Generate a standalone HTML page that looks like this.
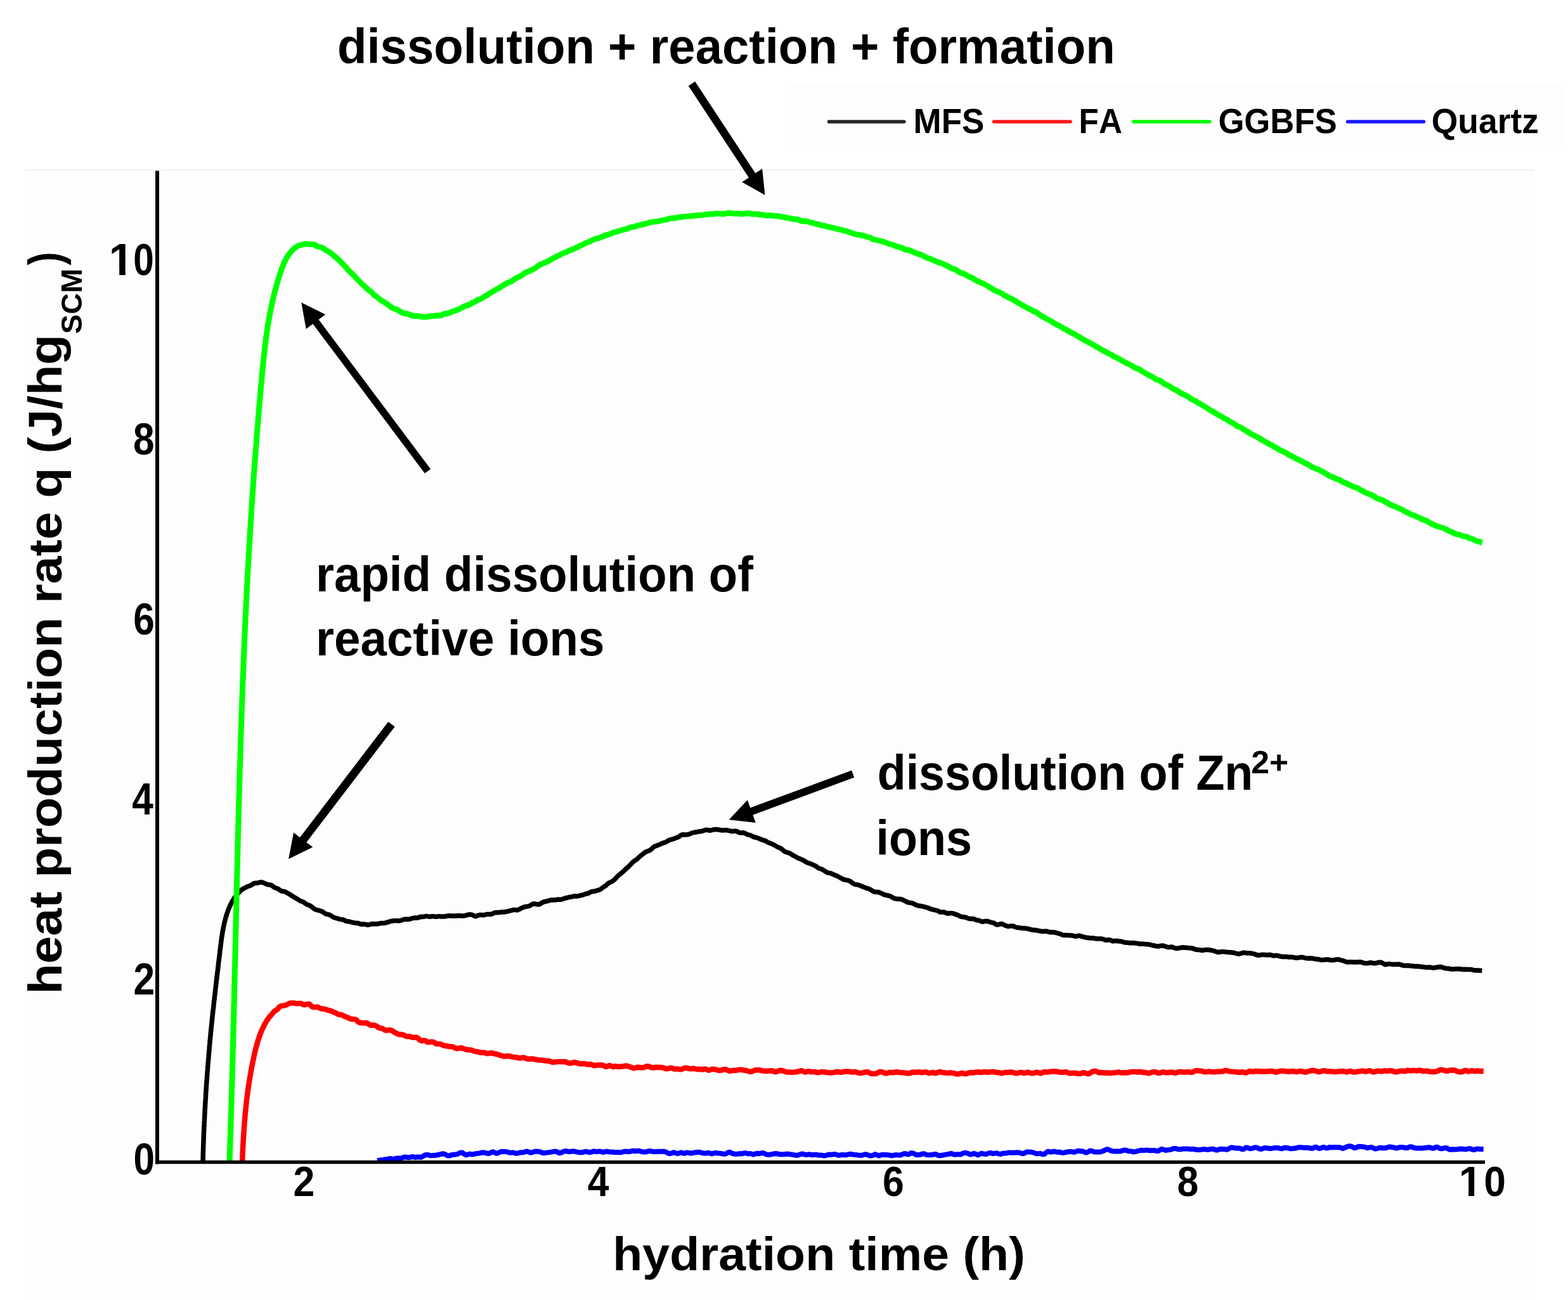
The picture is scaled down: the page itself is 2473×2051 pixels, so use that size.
<!DOCTYPE html><html><head><meta charset="utf-8"><title>heat production rate</title><style>html,body{margin:0;padding:0;background:#fff;}svg{display:block;}text{font-family:"Liberation Sans",Arial,sans-serif;font-weight:bold;font-kerning:none;}</style></head><body>
<svg width="2473" height="2051" viewBox="0 0 2473 2051">
<rect x="0" y="0" width="2473" height="2051" fill="#ffffff"/>
<rect x="38" y="268" width="2382" height="1783" fill="#fdfdfd"/>
<line x1="38" y1="268" x2="2420" y2="268" stroke="#f2f2f2" stroke-width="2"/>
<rect x="1246" y="134" width="1220" height="102" fill="#fdfdfd"/>
<path d="M595.0,1831.0 L598.0,1830.6 L601.0,1830.3 L604.0,1830.0 L606.9,1829.2 L609.9,1829.0 L612.9,1828.3 L615.8,1827.7 L618.9,1828.7 L622.0,1828.7 L624.8,1827.5 L627.8,1827.3 L630.9,1827.5 L633.8,1826.9 L636.7,1825.8 L639.7,1825.4 L642.8,1826.1 L645.8,1826.3 L648.7,1825.3 L651.7,1825.0 L654.8,1825.9 L657.8,1825.6 L660.8,1825.3 L663.8,1825.9 L666.7,1824.5 L669.6,1822.7 L672.5,1822.0 L675.6,1822.1 L678.6,1823.2 L681.6,1823.0 L684.6,1822.7 L687.6,1822.7 L690.6,1822.0 L693.5,1821.4 L696.5,1820.6 L699.5,1820.3 L702.5,1821.3 L705.6,1823.2 L708.7,1823.5 L711.6,1822.3 L714.6,1821.8 L717.6,1821.6 L720.5,1821.1 L723.5,1819.8 L726.4,1818.4 L729.4,1818.6 L732.5,1821.0 L735.6,1822.4 L738.5,1821.1 L741.5,1820.5 L744.5,1821.4 L747.5,1820.9 L750.5,1820.0 L753.5,1819.8 L756.4,1819.4 L759.4,1818.5 L762.4,1818.2 L765.4,1819.0 L768.4,1819.7 L771.4,1819.8 L774.4,1818.3 L777.4,1817.1 L780.4,1818.6 L783.4,1819.8 L786.4,1818.6 L789.4,1817.2 L792.3,1816.7 L795.3,1816.9 L798.3,1817.1 L801.4,1817.7 L804.4,1818.7 L807.4,1818.5 L810.4,1818.5 L813.4,1819.7 L816.4,1819.6 L819.4,1818.4 L822.3,1818.2 L825.3,1818.3 L828.3,1817.1 L831.3,1816.4 L834.3,1817.7 L837.3,1818.6 L840.3,1817.8 L843.3,1816.8 L846.3,1816.6 L849.3,1816.7 L852.3,1817.3 L855.3,1818.8 L858.3,1819.2 L861.3,1818.6 L864.3,1818.2 L867.3,1817.9 L870.3,1817.4 L873.3,1816.8 L876.3,1816.5 L879.3,1817.6 L882.3,1819.2 L885.3,1818.5 L888.3,1816.9 L891.3,1816.1 L894.3,1816.3 L897.3,1817.1 L900.2,1816.8 L903.2,1816.2 L906.2,1816.5 L909.2,1817.3 L912.2,1817.9 L915.2,1818.3 L918.2,1818.2 L921.2,1817.2 L924.2,1816.7 L927.2,1817.5 L930.2,1818.2 L933.2,1817.4 L936.2,1816.3 L939.2,1816.7 L942.2,1816.9 L945.2,1816.4 L948.2,1817.0 L951.2,1818.0 L954.2,1817.1 L957.2,1816.5 L960.2,1817.3 L963.2,1817.4 L966.2,1817.4 L969.2,1818.0 L972.2,1818.0 L975.2,1818.1 L978.2,1818.3 L981.2,1817.6 L984.2,1816.8 L987.2,1816.6 L990.2,1816.9 L993.2,1816.9 L996.2,1815.9 L999.2,1815.6 L1002.2,1816.3 L1005.2,1815.7 L1008.2,1815.6 L1011.2,1816.8 L1014.2,1817.4 L1017.2,1817.6 L1020.2,1817.0 L1023.2,1816.1 L1026.2,1816.1 L1029.2,1816.8 L1032.2,1817.1 L1035.2,1817.0 L1038.2,1816.8 L1041.2,1816.7 L1044.2,1816.7 L1047.2,1816.6 L1050.2,1817.5 L1053.2,1819.1 L1056.2,1820.1 L1059.2,1819.4 L1062.2,1818.1 L1065.2,1818.8 L1068.2,1820.1 L1071.2,1819.3 L1074.2,1818.3 L1077.2,1819.3 L1080.2,1819.7 L1083.2,1818.4 L1086.2,1818.9 L1089.2,1819.6 L1092.2,1818.9 L1095.2,1818.6 L1098.2,1818.0 L1101.2,1817.6 L1104.2,1818.1 L1107.2,1818.9 L1110.2,1819.5 L1113.2,1819.5 L1116.2,1818.8 L1119.2,1819.2 L1122.2,1820.3 L1125.2,1819.7 L1128.2,1818.9 L1131.2,1819.3 L1134.2,1819.6 L1137.2,1819.8 L1140.2,1820.5 L1143.2,1820.8 L1146.2,1819.6 L1149.2,1817.8 L1152.2,1818.3 L1155.2,1819.8 L1158.2,1820.5 L1161.2,1820.9 L1164.2,1820.4 L1167.2,1820.1 L1170.2,1820.4 L1173.2,1819.2 L1176.2,1819.1 L1179.2,1820.4 L1182.2,1819.9 L1185.2,1820.5 L1188.2,1821.5 L1191.2,1820.3 L1194.2,1819.7 L1197.2,1820.2 L1200.2,1819.4 L1203.2,1818.9 L1206.2,1820.2 L1209.2,1821.4 L1212.2,1821.7 L1215.2,1821.5 L1218.2,1820.8 L1221.2,1820.2 L1224.2,1819.9 L1227.2,1820.6 L1230.2,1821.3 L1233.2,1821.3 L1236.2,1821.2 L1239.2,1820.7 L1242.2,1820.6 L1245.2,1821.0 L1248.2,1821.4 L1251.2,1821.9 L1254.2,1822.5 L1257.2,1822.8 L1260.2,1821.9 L1263.2,1820.8 L1266.2,1820.6 L1269.2,1821.5 L1272.2,1821.9 L1275.2,1821.3 L1278.2,1821.6 L1281.2,1822.2 L1284.2,1821.7 L1287.2,1821.7 L1290.2,1822.4 L1293.2,1822.4 L1296.2,1822.7 L1299.2,1823.4 L1302.2,1823.1 L1305.2,1821.9 L1308.2,1821.5 L1311.2,1821.9 L1314.2,1821.2 L1317.2,1820.9 L1320.2,1822.2 L1323.2,1822.8 L1326.2,1822.1 L1329.2,1821.9 L1332.2,1822.3 L1335.2,1822.0 L1338.2,1821.2 L1341.2,1820.8 L1344.2,1821.3 L1347.2,1821.7 L1350.2,1822.0 L1353.2,1822.4 L1356.2,1822.7 L1359.2,1822.7 L1362.2,1821.7 L1365.2,1821.1 L1368.2,1821.9 L1371.2,1823.0 L1374.2,1823.6 L1377.2,1822.5 L1380.2,1821.1 L1383.2,1822.2 L1386.2,1823.4 L1389.2,1822.4 L1392.2,1821.7 L1395.2,1821.8 L1398.2,1821.9 L1401.2,1822.3 L1404.2,1822.7 L1407.2,1823.2 L1410.2,1822.6 L1413.2,1821.8 L1416.2,1822.4 L1419.2,1822.6 L1422.2,1821.6 L1425.2,1820.3 L1428.2,1820.1 L1431.2,1821.3 L1434.2,1820.8 L1437.2,1819.1 L1440.2,1819.4 L1443.2,1821.1 L1446.2,1822.1 L1449.2,1822.0 L1452.2,1821.5 L1455.2,1820.3 L1458.2,1820.4 L1461.2,1821.9 L1464.2,1822.2 L1467.2,1822.1 L1470.2,1822.1 L1473.2,1821.0 L1476.2,1821.0 L1479.2,1822.7 L1482.2,1823.2 L1485.2,1822.7 L1488.2,1822.3 L1491.2,1821.5 L1494.2,1821.1 L1497.2,1820.5 L1500.2,1819.8 L1503.2,1821.0 L1506.2,1821.8 L1509.2,1821.2 L1512.2,1821.3 L1515.2,1821.4 L1518.1,1819.8 L1521.1,1818.8 L1524.1,1819.1 L1527.1,1820.0 L1530.2,1821.4 L1533.2,1821.0 L1536.1,1819.7 L1539.2,1820.8 L1542.2,1822.3 L1545.2,1820.8 L1548.1,1819.6 L1551.1,1820.5 L1554.2,1821.0 L1557.1,1820.3 L1560.1,1819.1 L1563.1,1819.1 L1566.1,1820.1 L1569.1,1819.6 L1572.1,1819.1 L1575.1,1820.5 L1578.2,1820.9 L1581.1,1819.8 L1584.1,1819.5 L1587.1,1819.5 L1590.1,1818.6 L1593.1,1818.4 L1596.1,1818.7 L1599.1,1818.6 L1602.1,1818.6 L1605.1,1818.3 L1608.1,1818.6 L1611.1,1819.8 L1614.1,1820.1 L1617.1,1818.4 L1620.1,1817.3 L1623.1,1817.5 L1626.1,1817.6 L1629.1,1818.1 L1632.1,1819.3 L1635.1,1820.2 L1638.1,1820.1 L1641.1,1819.8 L1644.1,1821.2 L1647.1,1821.1 L1650.1,1818.2 L1653.1,1816.5 L1656.1,1817.4 L1659.1,1817.4 L1662.0,1816.5 L1665.1,1817.2 L1668.1,1817.7 L1671.1,1817.6 L1674.1,1818.6 L1677.1,1818.8 L1680.1,1818.0 L1683.1,1817.5 L1686.1,1817.0 L1689.1,1816.8 L1692.1,1817.6 L1695.1,1817.8 L1698.0,1816.3 L1701.0,1815.6 L1704.0,1816.3 L1707.0,1816.3 L1710.1,1817.4 L1713.1,1818.6 L1716.1,1817.3 L1719.0,1815.5 L1722.0,1815.8 L1725.1,1817.2 L1728.1,1817.5 L1731.1,1817.6 L1734.1,1817.6 L1737.0,1816.8 L1740.0,1815.9 L1743.0,1814.4 L1746.0,1813.0 L1749.0,1813.9 L1752.0,1815.6 L1755.0,1816.2 L1758.0,1816.4 L1761.0,1816.2 L1764.0,1816.4 L1767.0,1816.3 L1770.0,1815.4 L1773.0,1814.6 L1776.0,1814.8 L1779.0,1815.9 L1782.0,1816.3 L1785.0,1816.6 L1788.0,1817.4 L1791.0,1816.9 L1794.0,1816.1 L1797.0,1815.4 L1800.0,1814.6 L1803.0,1815.0 L1806.0,1814.8 L1809.0,1814.4 L1812.0,1815.1 L1815.0,1815.2 L1818.0,1815.0 L1821.0,1815.1 L1824.0,1815.9 L1827.0,1815.8 L1830.0,1813.9 L1832.9,1812.9 L1836.0,1814.1 L1839.0,1814.9 L1842.0,1814.2 L1845.0,1813.9 L1847.9,1813.3 L1850.9,1811.9 L1853.9,1811.9 L1856.9,1812.8 L1859.9,1813.4 L1862.9,1813.0 L1865.9,1812.6 L1868.9,1812.5 L1871.9,1812.4 L1874.9,1812.8 L1877.9,1812.9 L1880.9,1812.7 L1883.9,1813.2 L1886.9,1813.9 L1889.9,1813.9 L1892.9,1813.9 L1895.9,1813.6 L1898.9,1813.0 L1901.9,1813.5 L1904.9,1813.8 L1907.9,1813.3 L1910.9,1812.7 L1913.9,1812.8 L1916.9,1814.2 L1919.9,1814.6 L1922.9,1813.2 L1925.9,1812.7 L1928.9,1812.9 L1931.9,1813.3 L1934.9,1813.7 L1937.9,1812.5 L1940.9,1810.5 L1943.9,1810.5 L1946.9,1811.3 L1949.9,1811.6 L1952.9,1811.4 L1955.9,1811.7 L1958.9,1813.3 L1961.9,1812.8 L1964.9,1810.5 L1967.9,1810.8 L1970.9,1812.2 L1973.9,1812.0 L1976.9,1811.1 L1979.9,1810.3 L1982.9,1810.8 L1985.9,1812.4 L1988.9,1813.0 L1991.9,1811.9 L1994.9,1811.1 L1997.9,1811.3 L2000.9,1811.7 L2003.9,1812.0 L2006.9,1811.6 L2009.9,1811.1 L2012.8,1810.9 L2015.8,1810.9 L2018.9,1812.0 L2021.9,1812.2 L2024.8,1811.0 L2027.8,1810.8 L2030.8,1811.1 L2033.9,1812.0 L2036.9,1812.3 L2039.8,1811.7 L2042.8,1811.7 L2045.8,1810.9 L2048.8,1810.2 L2051.8,1810.3 L2054.8,1810.6 L2057.8,1810.7 L2060.8,1810.7 L2063.8,1810.8 L2066.8,1811.7 L2069.8,1811.8 L2072.8,1810.3 L2075.8,1809.8 L2078.8,1811.3 L2081.8,1812.0 L2084.8,1810.6 L2087.8,1809.8 L2090.8,1811.1 L2093.8,1811.3 L2096.8,1810.0 L2099.8,1810.2 L2102.8,1810.3 L2105.8,1810.1 L2108.8,1810.2 L2111.8,1810.0 L2114.8,1810.9 L2117.8,1811.9 L2120.8,1811.0 L2123.8,1809.3 L2126.8,1808.4 L2129.8,1808.2 L2132.8,1809.3 L2135.8,1811.1 L2138.8,1810.7 L2141.8,1809.2 L2144.8,1808.7 L2147.8,1809.1 L2150.8,1809.4 L2153.8,1810.1 L2156.8,1811.2 L2159.8,1810.4 L2162.8,1809.9 L2165.8,1811.2 L2168.8,1812.5 L2171.8,1812.1 L2174.8,1810.9 L2177.8,1810.8 L2180.8,1811.2 L2183.8,1811.3 L2186.8,1810.8 L2189.8,1809.6 L2192.8,1809.5 L2195.8,1810.0 L2198.8,1810.5 L2201.8,1811.5 L2204.8,1811.0 L2207.8,1810.0 L2210.8,1810.0 L2213.8,1810.3 L2216.8,1811.0 L2219.7,1811.1 L2222.8,1809.5 L2225.8,1809.1 L2228.8,1810.5 L2231.7,1811.2 L2234.7,1811.4 L2237.7,1811.5 L2240.7,1811.6 L2243.7,1811.5 L2246.7,1810.9 L2249.7,1810.7 L2252.8,1810.3 L2255.8,1810.4 L2258.7,1811.7 L2261.7,1811.4 L2264.8,1809.8 L2267.8,1810.0 L2270.7,1811.9 L2273.7,1812.4 L2276.7,1811.6 L2279.7,1810.8 L2282.7,1811.7 L2285.7,1813.6 L2288.7,1813.7 L2291.7,1813.2 L2294.7,1813.4 L2297.7,1813.4 L2300.7,1812.9 L2303.7,1812.6 L2306.7,1812.8 L2309.7,1813.3 L2312.7,1813.3 L2315.7,1812.3 L2318.7,1812.2 L2321.7,1813.5 L2324.7,1814.1 L2327.7,1813.2 L2330.7,1812.4 L2333.7,1813.0 L2336.7,1813.1 L2339.7,1813.2" fill="none" stroke="#0000ff" stroke-width="8" stroke-linejoin="round" stroke-linecap="butt"/>
<path d="M381.9,1833.4 L382.1,1830.2 L382.3,1827.0 L382.4,1823.8 L382.6,1820.7 L382.7,1817.5 L382.9,1814.4 L383.1,1811.3 L383.2,1808.2 L383.4,1805.2 L383.6,1802.1 L383.7,1799.1 L383.9,1796.1 L384.1,1793.1 L384.3,1790.1 L384.5,1787.1 L384.7,1784.2 L384.9,1781.2 L385.1,1778.3 L385.3,1775.4 L385.5,1772.4 L385.8,1769.5 L386.0,1766.6 L386.2,1763.7 L386.5,1760.8 L386.7,1758.0 L387.0,1755.1 L387.3,1752.2 L387.6,1749.3 L387.9,1746.5 L388.2,1743.6 L388.5,1740.7 L388.8,1737.9 L389.1,1735.0 L389.5,1732.1 L389.8,1729.3 L390.2,1726.4 L390.6,1723.5 L391.0,1720.6 L391.4,1717.7 L391.8,1714.8 L392.2,1711.9 L392.6,1709.0 L393.1,1706.1 L393.6,1703.2 L394.1,1700.3 L394.6,1697.3 L395.1,1694.4 L395.6,1691.4 L396.1,1688.4 L396.7,1685.4 L397.3,1682.4 L397.9,1679.4 L398.5,1676.4 L399.1,1673.3 L399.8,1670.3 L400.4,1667.2 L401.1,1664.1 L401.8,1661.0 L402.6,1657.8 L403.3,1654.7 L404.1,1651.6 L405.0,1648.5 L405.8,1645.5 L406.7,1642.4 L407.7,1639.4 L408.7,1636.4 L409.7,1633.4 L410.8,1630.5 L412.0,1627.6 L413.2,1624.7 L414.5,1622.0 L415.8,1619.2 L417.2,1616.5 L418.6,1613.9 L420.1,1611.4 L421.7,1608.9 L423.4,1606.5 L425.1,1604.2 L427.1,1602.1 L429.0,1600.0 L430.8,1597.7 L432.7,1595.6 L435.1,1594.0 L437.4,1592.4 L439.3,1590.2 L441.4,1588.0 L444.1,1587.0 L447.1,1586.7 L449.9,1586.1 L452.5,1585.1 L455.0,1583.6 L457.7,1582.5 L460.6,1582.5 L463.5,1582.5 L466.4,1583.0 L469.2,1583.4 L472.2,1582.9 L475.1,1583.3 L477.9,1584.8 L480.8,1585.3 L484.1,1584.2 L487.3,1583.9 L489.9,1586.0 L492.4,1588.3 L495.3,1589.0 L498.5,1588.7 L501.6,1589.0 L504.3,1590.4 L507.2,1591.4 L510.2,1591.7 L513.2,1592.3 L516.0,1593.4 L518.9,1594.2 L521.9,1594.9 L524.6,1596.2 L527.4,1597.3 L530.3,1598.4 L532.9,1600.1 L535.8,1600.8 L539.0,1601.0 L541.6,1602.6 L544.3,1603.9 L547.2,1604.8 L549.9,1606.2 L552.7,1607.3 L555.7,1608.0 L558.9,1608.0 L561.8,1608.9 L564.1,1611.5 L566.6,1613.3 L569.7,1613.7 L572.8,1613.9 L576.1,1613.8 L579.2,1614.1 L581.7,1616.1 L584.4,1617.5 L587.6,1617.3 L590.7,1617.5 L593.5,1618.6 L596.0,1620.7 L598.7,1622.1 L601.9,1622.2 L604.6,1623.5 L607.2,1625.4 L610.3,1625.5 L613.5,1625.1 L616.6,1625.3 L619.3,1626.6 L621.9,1628.6 L624.6,1629.9 L627.3,1631.4 L630.2,1632.2 L633.4,1632.0 L636.3,1632.8 L638.9,1634.3 L641.8,1635.2 L644.9,1635.2 L647.9,1635.6 L650.7,1636.8 L653.8,1636.8 L656.9,1636.5 L659.6,1638.3 L662.0,1640.8 L664.8,1642.2 L668.0,1641.5 L671.0,1641.9 L673.6,1644.0 L676.6,1644.3 L679.8,1643.8 L682.8,1643.8 L685.6,1645.1 L688.2,1646.9 L691.3,1647.1 L694.4,1647.0 L697.1,1648.3 L699.9,1649.6 L702.9,1649.9 L705.8,1650.5 L708.7,1651.2 L711.7,1651.3 L714.7,1651.7 L717.4,1653.2 L720.3,1654.4 L723.4,1653.9 L726.6,1653.2 L729.5,1653.7 L732.3,1655.0 L735.2,1655.8 L738.1,1656.3 L741.1,1656.5 L744.1,1656.8 L746.9,1658.2 L749.8,1659.0 L752.8,1659.2 L755.7,1660.0 L758.6,1660.8 L761.6,1660.6 L764.6,1660.9 L767.5,1661.9 L770.5,1661.9 L773.6,1661.3 L776.6,1661.6 L779.5,1662.5 L782.4,1662.9 L785.3,1663.7 L788.2,1664.8 L791.1,1665.7 L794.0,1666.4 L797.0,1666.4 L800.1,1666.1 L803.1,1666.2 L806.0,1666.9 L808.9,1667.8 L811.9,1668.0 L814.8,1668.3 L817.7,1669.2 L820.7,1669.3 L823.8,1668.6 L826.8,1668.7 L829.7,1670.0 L832.6,1670.8 L835.6,1670.8 L838.6,1670.6 L841.6,1670.7 L844.6,1671.5 L847.5,1672.2 L850.5,1672.4 L853.5,1672.5 L856.4,1672.9 L859.4,1673.6 L862.4,1673.7 L865.4,1673.8 L868.3,1674.9 L871.2,1675.7 L874.2,1675.7 L877.3,1675.3 L880.3,1674.9 L883.3,1675.1 L886.3,1675.3 L889.3,1674.9 L892.3,1675.3 L895.2,1676.7 L898.1,1677.5 L901.1,1677.2 L904.2,1676.3 L907.2,1676.1 L910.2,1677.0 L913.1,1678.0 L916.1,1678.4 L919.1,1678.2 L922.1,1678.2 L925.1,1679.0 L928.0,1679.5 L931.1,1679.0 L934.0,1679.9 L936.9,1681.2 L940.0,1680.8 L943.0,1680.3 L946.0,1680.5 L949.0,1680.3 L952.0,1681.1 L954.9,1682.7 L957.9,1682.4 L961.0,1681.0 L964.0,1682.1 L966.9,1683.1 L970.0,1682.2 L972.9,1682.5 L975.9,1683.1 L979.0,1682.6 L982.0,1682.6 L985.0,1682.0 L988.0,1681.5 L991.0,1682.4 L994.0,1683.3 L996.9,1684.5 L999.9,1685.3 L1002.9,1684.5 L1006.0,1683.7 L1009.0,1684.0 L1012.0,1684.5 L1015.0,1684.2 L1018.0,1683.0 L1021.1,1682.2 L1024.1,1682.7 L1027.0,1684.1 L1030.0,1684.5 L1033.0,1684.0 L1036.0,1683.8 L1039.0,1683.9 L1042.0,1684.0 L1045.0,1684.4 L1048.0,1685.2 L1051.0,1686.2 L1054.0,1685.8 L1057.1,1684.9 L1060.0,1685.3 L1063.0,1686.5 L1066.0,1686.6 L1069.0,1686.5 L1072.0,1687.2 L1075.0,1687.0 L1078.1,1685.6 L1081.1,1684.7 L1084.1,1685.1 L1087.1,1686.1 L1090.1,1686.2 L1093.1,1685.8 L1096.1,1686.2 L1099.1,1687.0 L1102.1,1686.8 L1105.1,1687.0 L1108.1,1687.4 L1111.1,1686.4 L1114.1,1686.9 L1117.1,1688.5 L1120.1,1687.8 L1123.1,1686.7 L1126.1,1686.8 L1129.1,1687.5 L1132.1,1688.5 L1135.1,1688.8 L1138.1,1688.4 L1141.1,1687.4 L1144.1,1687.0 L1147.1,1688.3 L1150.1,1689.7 L1153.1,1689.4 L1156.1,1688.8 L1159.1,1688.7 L1162.1,1688.4 L1165.1,1687.9 L1168.2,1687.6 L1171.1,1688.0 L1174.1,1688.6 L1177.1,1689.0 L1180.1,1690.0 L1183.1,1690.9 L1186.1,1690.4 L1189.1,1689.0 L1192.2,1688.2 L1195.2,1688.1 L1198.2,1688.3 L1201.1,1689.1 L1204.1,1689.7 L1207.1,1689.7 L1210.1,1689.7 L1213.1,1689.6 L1216.1,1689.3 L1219.1,1689.7 L1222.1,1691.0 L1225.1,1690.8 L1228.1,1689.2 L1231.2,1688.7 L1234.1,1689.2 L1237.1,1690.2 L1240.1,1691.2 L1243.1,1691.6 L1246.1,1691.6 L1249.1,1691.7 L1252.1,1691.6 L1255.1,1691.3 L1258.1,1690.8 L1261.1,1689.8 L1264.1,1689.1 L1267.1,1690.4 L1270.1,1691.5 L1273.1,1690.6 L1276.1,1690.3 L1279.1,1691.1 L1282.1,1690.9 L1285.1,1690.9 L1288.1,1691.9 L1291.1,1692.0 L1294.1,1691.4 L1297.1,1690.9 L1300.1,1691.2 L1303.1,1691.7 L1306.1,1692.1 L1309.1,1692.5 L1312.1,1692.3 L1315.1,1691.9 L1318.1,1691.3 L1321.1,1690.8 L1324.1,1691.5 L1327.1,1691.8 L1330.1,1691.0 L1333.1,1690.6 L1336.1,1690.6 L1339.1,1690.6 L1342.1,1691.3 L1345.1,1691.4 L1348.1,1690.9 L1351.1,1691.6 L1354.0,1692.7 L1357.0,1693.0 L1360.0,1692.6 L1363.0,1691.8 L1366.0,1691.2 L1369.0,1691.5 L1372.0,1692.8 L1375.0,1694.1 L1378.0,1694.1 L1381.0,1693.9 L1384.0,1692.8 L1387.0,1691.1 L1390.0,1691.0 L1393.0,1692.0 L1396.0,1693.2 L1399.0,1693.3 L1402.0,1692.1 L1405.0,1692.0 L1408.0,1692.2 L1411.0,1691.7 L1414.0,1691.2 L1417.0,1691.7 L1420.0,1692.1 L1423.0,1692.2 L1426.0,1692.6 L1429.0,1692.9 L1431.9,1693.3 L1434.9,1693.3 L1437.9,1692.0 L1440.9,1691.5 L1443.9,1691.9 L1446.9,1691.4 L1449.9,1691.3 L1452.9,1692.0 L1455.9,1691.9 L1458.9,1691.3 L1461.9,1691.8 L1464.9,1693.1 L1467.9,1692.8 L1470.9,1691.9 L1473.9,1692.9 L1476.9,1693.1 L1479.9,1691.4 L1482.9,1691.1 L1485.9,1692.0 L1488.9,1692.3 L1491.8,1692.7 L1494.8,1692.9 L1497.8,1692.5 L1500.8,1692.6 L1503.8,1693.1 L1506.8,1693.8 L1509.8,1694.6 L1512.8,1694.3 L1515.8,1693.1 L1518.8,1693.2 L1521.8,1694.3 L1524.8,1693.9 L1527.8,1692.6 L1530.8,1692.1 L1533.8,1692.4 L1536.8,1692.1 L1539.8,1691.4 L1542.8,1691.2 L1545.7,1691.7 L1548.7,1691.8 L1551.7,1691.2 L1554.7,1691.3 L1557.7,1691.7 L1560.7,1691.2 L1563.7,1690.9 L1566.7,1691.0 L1569.7,1691.5 L1572.7,1692.1 L1575.7,1692.3 L1578.7,1693.0 L1581.7,1693.0 L1584.7,1692.0 L1587.7,1691.9 L1590.7,1691.8 L1593.6,1691.4 L1596.6,1691.8 L1599.6,1692.5 L1602.6,1693.3 L1605.6,1693.1 L1608.6,1691.9 L1611.6,1692.0 L1614.6,1693.1 L1617.6,1692.6 L1620.6,1691.6 L1623.6,1692.4 L1626.6,1693.3 L1629.6,1693.3 L1632.6,1692.4 L1635.6,1691.7 L1638.6,1692.6 L1641.6,1693.3 L1644.5,1692.0 L1647.5,1691.0 L1650.5,1691.5 L1653.5,1691.2 L1656.5,1690.7 L1659.5,1690.6 L1662.5,1690.2 L1665.5,1690.5 L1668.5,1691.0 L1671.5,1691.5 L1674.5,1691.9 L1677.5,1691.5 L1680.5,1691.1 L1683.5,1692.0 L1686.5,1693.2 L1689.4,1693.3 L1692.4,1692.9 L1695.4,1693.0 L1698.4,1693.5 L1701.4,1694.1 L1704.4,1693.8 L1707.4,1692.5 L1710.4,1692.4 L1713.4,1693.6 L1716.4,1694.3 L1719.4,1692.9 L1722.4,1690.9 L1725.4,1690.0 L1728.3,1690.0 L1731.3,1691.5 L1734.3,1692.4 L1737.3,1692.1 L1740.3,1692.4 L1743.3,1692.8 L1746.3,1692.6 L1749.3,1692.8 L1752.3,1692.9 L1755.3,1692.6 L1758.3,1692.4 L1761.3,1691.8 L1764.3,1691.4 L1767.3,1692.3 L1770.3,1692.6 L1773.3,1692.3 L1776.3,1692.6 L1779.3,1692.3 L1782.2,1691.2 L1785.2,1691.1 L1788.2,1691.1 L1791.2,1691.1 L1794.2,1691.4 L1797.2,1691.1 L1800.2,1691.2 L1803.2,1691.9 L1806.2,1692.1 L1809.2,1692.8 L1812.2,1693.2 L1815.2,1692.2 L1818.2,1691.2 L1821.2,1691.0 L1824.2,1691.9 L1827.2,1693.0 L1830.1,1692.6 L1833.1,1691.4 L1836.1,1691.5 L1839.1,1692.3 L1842.1,1692.2 L1845.1,1691.8 L1848.1,1691.6 L1851.1,1692.4 L1854.1,1692.8 L1857.1,1691.8 L1860.1,1690.9 L1863.1,1691.0 L1866.1,1691.5 L1869.1,1691.5 L1872.1,1691.3 L1875.1,1691.2 L1878.1,1691.8 L1881.0,1691.6 L1884.0,1689.8 L1887.0,1689.0 L1890.0,1689.4 L1893.0,1689.5 L1896.0,1689.9 L1899.0,1691.0 L1902.0,1691.3 L1905.0,1690.7 L1908.0,1690.6 L1911.0,1691.0 L1914.0,1691.3 L1917.0,1691.1 L1920.0,1690.8 L1923.0,1690.7 L1926.0,1690.6 L1929.0,1690.2 L1931.9,1689.0 L1934.9,1689.0 L1937.9,1690.1 L1940.9,1690.5 L1943.9,1690.7 L1946.9,1691.1 L1949.9,1691.1 L1952.9,1691.8 L1955.9,1691.8 L1958.9,1691.1 L1961.9,1691.8 L1964.9,1692.7 L1967.9,1691.3 L1970.9,1689.9 L1973.9,1690.8 L1976.9,1690.7 L1979.9,1689.9 L1982.9,1690.2 L1985.9,1690.1 L1988.9,1690.4 L1991.9,1690.6 L1994.9,1690.4 L1997.9,1690.4 L2000.8,1690.1 L2003.8,1690.1 L2006.8,1690.1 L2009.8,1690.8 L2012.8,1691.8 L2015.8,1690.8 L2018.8,1689.7 L2021.8,1689.7 L2024.8,1689.8 L2027.8,1690.2 L2030.8,1690.5 L2033.8,1690.5 L2036.8,1690.2 L2039.8,1690.1 L2042.8,1690.8 L2045.8,1691.0 L2048.8,1690.2 L2051.8,1690.0 L2054.8,1690.7 L2057.8,1691.5 L2060.8,1691.2 L2063.8,1690.1 L2066.8,1689.5 L2069.8,1688.8 L2072.8,1689.0 L2075.8,1690.0 L2078.8,1690.9 L2081.8,1690.9 L2084.8,1689.7 L2087.8,1689.2 L2090.8,1689.8 L2093.8,1690.2 L2096.8,1690.3 L2099.8,1690.6 L2102.8,1690.8 L2105.7,1691.0 L2108.7,1690.7 L2111.7,1690.3 L2114.7,1690.3 L2117.7,1690.0 L2120.7,1690.5 L2123.7,1691.4 L2126.7,1690.4 L2129.7,1689.8 L2132.7,1690.9 L2135.7,1691.5 L2138.7,1691.1 L2141.7,1690.5 L2144.7,1690.1 L2147.7,1689.6 L2150.7,1689.8 L2153.7,1690.6 L2156.7,1690.0 L2159.7,1689.2 L2162.7,1690.0 L2165.7,1691.3 L2168.7,1691.0 L2171.7,1689.8 L2174.7,1689.8 L2177.7,1690.4 L2180.7,1690.0 L2183.7,1689.3 L2186.7,1689.8 L2189.7,1689.7 L2192.7,1689.1 L2195.7,1689.5 L2198.7,1690.8 L2201.7,1691.3 L2204.7,1690.7 L2207.7,1689.9 L2210.7,1689.5 L2213.7,1690.1 L2216.7,1690.0 L2219.7,1688.8 L2222.7,1689.1 L2225.7,1689.5 L2228.7,1688.6 L2231.7,1689.1 L2234.7,1689.4 L2237.7,1688.6 L2240.7,1688.9 L2243.7,1689.9 L2246.7,1689.9 L2249.7,1689.5 L2252.7,1690.2 L2255.7,1690.7 L2258.7,1691.1 L2261.7,1691.1 L2264.8,1690.5 L2267.8,1689.6 L2270.8,1688.2 L2273.8,1687.8 L2276.8,1688.4 L2279.8,1689.5 L2282.8,1689.7 L2285.8,1688.7 L2288.8,1688.5 L2291.8,1688.2 L2294.8,1688.7 L2297.8,1690.3 L2300.8,1690.9 L2303.8,1691.4 L2306.8,1690.9 L2309.8,1688.9 L2312.8,1688.9 L2315.8,1690.5 L2318.8,1689.9 L2321.8,1689.1 L2324.8,1690.0 L2327.8,1690.0 L2330.8,1689.3 L2333.8,1689.9 L2336.8,1689.9 L2339.8,1689.9" fill="none" stroke="#ff0000" stroke-width="8.5" stroke-linejoin="round" stroke-linecap="butt"/>
<path d="M320.0,1832.6 L320.1,1829.7 L320.2,1826.9 L320.2,1824.0 L320.3,1821.1 L320.4,1818.2 L320.5,1815.3 L320.6,1812.3 L320.7,1809.4 L320.8,1806.5 L320.9,1803.5 L321.0,1800.6 L321.1,1797.6 L321.2,1794.6 L321.3,1791.7 L321.4,1788.7 L321.5,1785.7 L321.7,1782.7 L321.8,1779.7 L321.9,1776.7 L322.1,1773.7 L322.2,1770.7 L322.4,1767.7 L322.5,1764.7 L322.7,1761.6 L322.8,1758.6 L323.0,1755.6 L323.1,1752.5 L323.3,1749.5 L323.5,1746.5 L323.6,1743.4 L323.8,1740.4 L324.0,1737.3 L324.2,1734.3 L324.4,1731.2 L324.5,1728.2 L324.7,1725.1 L324.9,1722.1 L325.1,1719.0 L325.3,1716.0 L325.5,1712.9 L325.7,1709.9 L325.9,1706.9 L326.2,1703.8 L326.4,1700.8 L326.6,1697.7 L326.8,1694.7 L327.0,1691.7 L327.3,1688.6 L327.5,1685.6 L327.7,1682.6 L328.0,1679.6 L328.2,1676.5 L328.5,1673.5 L328.7,1670.5 L329.0,1667.5 L329.2,1664.5 L329.5,1661.5 L329.7,1658.5 L330.0,1655.5 L330.2,1652.6 L330.5,1649.6 L330.8,1646.6 L331.0,1643.7 L331.3,1640.7 L331.6,1637.8 L331.9,1634.9 L332.2,1631.9 L332.4,1629.0 L332.7,1626.1 L333.0,1623.2 L333.3,1620.3 L333.6,1617.4 L333.9,1614.5 L334.2,1611.6 L334.5,1608.7 L334.8,1605.8 L335.1,1602.9 L335.4,1600.0 L335.7,1597.2 L336.0,1594.3 L336.4,1591.4 L336.7,1588.5 L337.0,1585.6 L337.3,1582.7 L337.6,1579.8 L338.0,1576.9 L338.3,1574.0 L338.6,1571.1 L339.0,1568.2 L339.3,1565.3 L339.6,1562.4 L340.0,1559.5 L340.3,1556.5 L340.7,1553.6 L341.0,1550.7 L341.3,1547.7 L341.7,1544.7 L342.0,1541.8 L342.4,1538.8 L342.7,1535.8 L343.1,1532.8 L343.5,1529.8 L343.8,1526.8 L344.2,1523.7 L344.5,1520.7 L344.9,1517.6 L345.3,1514.6 L345.6,1511.5 L346.0,1508.4 L346.4,1505.2 L346.7,1502.1 L347.1,1499.0 L347.5,1495.8 L347.9,1492.6 L348.3,1489.5 L348.7,1486.3 L349.1,1483.1 L349.5,1480.0 L350.0,1476.8 L350.5,1473.6 L351.0,1470.5 L351.6,1467.4 L352.2,1464.3 L352.8,1461.2 L353.4,1458.1 L354.1,1455.1 L354.9,1452.1 L355.6,1449.1 L356.5,1446.1 L357.4,1443.2 L358.3,1440.4 L359.3,1437.6 L360.3,1434.8 L361.5,1432.1 L362.6,1429.4 L363.9,1426.8 L365.2,1424.2 L366.6,1421.7 L368.0,1419.3 L369.6,1417.0 L371.2,1414.7 L372.9,1412.5 L374.7,1410.3 L376.5,1408.2 L378.5,1406.2 L380.5,1404.3 L382.8,1402.6 L385.3,1401.3 L387.8,1400.0 L390.4,1398.7 L393.1,1397.8 L395.6,1396.7 L398.0,1395.2 L400.5,1393.7 L403.2,1393.2 L405.9,1393.2 L408.6,1392.3 L411.4,1391.7 L414.2,1392.2 L416.8,1393.4 L419.4,1394.6 L422.1,1395.6 L425.1,1395.9 L428.0,1396.5 L430.4,1398.4 L432.9,1400.2 L435.7,1401.2 L438.5,1402.3 L441.0,1404.1 L443.6,1405.7 L446.6,1406.3 L449.7,1406.9 L452.3,1408.5 L455.0,1409.9 L457.7,1411.3 L460.2,1413.2 L462.8,1414.8 L465.4,1416.4 L468.1,1417.9 L470.7,1419.5 L473.2,1421.2 L476.2,1422.2 L479.0,1423.4 L481.5,1425.3 L484.0,1427.0 L487.0,1428.1 L489.8,1429.3 L492.2,1431.2 L494.6,1433.2 L497.2,1434.8 L500.3,1435.6 L503.2,1436.5 L506.2,1437.4 L509.0,1438.5 L511.4,1440.4 L514.0,1442.0 L517.0,1442.6 L519.9,1443.4 L522.5,1445.0 L525.0,1446.8 L527.8,1447.8 L530.7,1448.6 L533.6,1449.5 L536.4,1450.4 L539.3,1450.8 L542.3,1451.2 L544.8,1452.9 L547.6,1453.8 L550.6,1453.8 L553.4,1454.7 L556.3,1455.5 L559.2,1455.9 L562.1,1456.2 L565.0,1456.5 L567.8,1457.7 L570.7,1458.4 L573.7,1457.9 L576.6,1458.4 L579.6,1459.2 L582.6,1458.7 L585.6,1457.9 L588.6,1457.6 L591.6,1457.7 L594.7,1457.7 L597.7,1457.2 L600.8,1456.5 L603.9,1456.5 L607.0,1456.2 L610.0,1455.5 L612.9,1454.4 L615.9,1453.5 L619.0,1453.0 L622.0,1452.6 L625.2,1452.5 L628.3,1452.8 L631.3,1452.5 L634.3,1451.5 L637.1,1450.5 L640.1,1450.1 L643.2,1450.4 L646.2,1450.1 L649.0,1449.2 L651.9,1448.4 L654.8,1448.0 L657.8,1448.2 L660.7,1447.5 L663.5,1446.3 L666.5,1446.4 L669.4,1446.1 L672.3,1445.4 L675.3,1445.9 L678.2,1446.3 L681.2,1445.8 L684.1,1445.7 L687.1,1446.4 L690.0,1446.0 L693.0,1445.6 L696.0,1446.1 L698.9,1446.1 L701.9,1445.9 L704.9,1445.2 L707.9,1444.6 L710.9,1445.1 L713.9,1445.1 L716.9,1445.0 L719.9,1445.0 L723.0,1444.5 L726.0,1444.7 L729.0,1444.9 L732.0,1444.7 L735.0,1444.1 L738.1,1443.2 L741.1,1442.8 L744.1,1443.2 L747.2,1444.7 L750.3,1445.8 L753.3,1444.6 L756.2,1443.4 L759.2,1443.4 L762.3,1443.7 L765.3,1443.1 L768.2,1442.4 L771.3,1442.4 L774.3,1442.4 L777.2,1441.5 L780.0,1440.0 L783.0,1439.6 L786.0,1439.8 L788.9,1439.2 L791.9,1439.1 L795.0,1439.0 L797.9,1438.4 L800.8,1437.8 L803.7,1437.2 L806.6,1436.4 L809.4,1435.5 L812.5,1435.5 L815.6,1435.9 L818.5,1434.8 L821.2,1433.4 L823.9,1432.1 L826.7,1431.0 L829.6,1430.3 L832.6,1429.9 L835.5,1429.1 L838.1,1427.4 L840.9,1425.9 L844.0,1426.0 L847.3,1426.8 L850.4,1426.9 L853.1,1425.4 L855.8,1423.6 L858.6,1422.6 L861.6,1422.0 L864.5,1421.4 L867.4,1420.4 L870.4,1419.8 L873.5,1420.0 L876.6,1419.8 L879.5,1419.1 L882.6,1419.2 L885.7,1419.1 L888.6,1418.0 L891.5,1417.0 L894.5,1416.4 L897.4,1415.5 L900.4,1415.2 L903.3,1414.5 L906.2,1413.7 L909.4,1414.0 L912.4,1413.8 L915.2,1412.8 L918.2,1412.3 L921.0,1411.3 L923.8,1410.2 L926.7,1409.8 L929.5,1408.5 L932.1,1407.2 L934.9,1406.5 L937.8,1406.0 L940.7,1405.3 L943.4,1404.4 L946.3,1403.6 L948.7,1402.0 L950.9,1400.0 L953.4,1398.5 L955.8,1397.0 L957.9,1394.8 L960.2,1393.0 L962.9,1391.9 L965.7,1390.5 L968.0,1388.7 L970.2,1386.7 L972.3,1384.4 L974.4,1382.2 L976.6,1380.2 L979.0,1378.3 L981.4,1376.4 L983.7,1374.4 L985.9,1372.2 L988.2,1370.2 L990.4,1368.0 L992.6,1365.9 L994.8,1363.8 L996.8,1361.5 L999.0,1359.3 L1001.5,1357.6 L1004.1,1356.0 L1006.3,1353.9 L1008.4,1351.8 L1010.7,1349.9 L1013.0,1348.1 L1015.4,1346.3 L1017.7,1344.5 L1020.4,1343.3 L1023.3,1342.3 L1025.8,1340.9 L1028.1,1339.1 L1030.2,1336.9 L1032.6,1335.2 L1035.5,1334.3 L1038.2,1333.3 L1040.9,1332.1 L1043.6,1330.9 L1046.3,1329.7 L1049.2,1329.0 L1051.8,1327.7 L1054.4,1325.9 L1057.2,1324.9 L1060.1,1324.2 L1063.0,1323.2 L1065.8,1322.0 L1068.7,1321.1 L1071.5,1319.7 L1074.0,1317.5 L1077.0,1316.7 L1080.3,1317.0 L1083.4,1316.8 L1086.5,1316.3 L1089.3,1315.1 L1092.2,1313.9 L1095.2,1313.4 L1098.3,1312.8 L1101.3,1312.1 L1104.3,1311.8 L1107.3,1311.2 L1110.3,1310.2 L1113.3,1309.3 L1116.4,1309.5 L1119.5,1310.4 L1122.5,1309.7 L1125.5,1308.7 L1128.5,1308.6 L1131.5,1308.8 L1134.5,1309.2 L1137.5,1309.8 L1140.5,1309.9 L1143.4,1309.8 L1146.4,1309.8 L1149.3,1310.4 L1152.2,1311.2 L1155.1,1311.4 L1158.1,1311.2 L1161.1,1311.3 L1163.8,1312.5 L1166.5,1313.8 L1169.4,1314.0 L1172.5,1313.7 L1175.3,1314.8 L1177.9,1316.3 L1180.7,1317.1 L1183.5,1317.9 L1186.2,1319.2 L1188.9,1320.5 L1191.7,1321.2 L1194.6,1322.0 L1197.3,1323.0 L1200.1,1324.2 L1202.8,1325.3 L1205.8,1326.0 L1208.5,1327.2 L1210.9,1329.0 L1213.8,1330.0 L1216.6,1331.0 L1219.3,1332.4 L1221.9,1333.8 L1224.6,1335.3 L1227.2,1336.7 L1230.0,1337.8 L1232.7,1339.2 L1235.0,1341.4 L1237.4,1343.3 L1240.2,1344.5 L1243.1,1345.3 L1246.0,1346.4 L1248.5,1348.0 L1251.1,1349.6 L1253.8,1351.0 L1256.4,1352.6 L1259.1,1354.0 L1261.9,1355.1 L1264.7,1356.2 L1267.4,1357.5 L1270.0,1359.2 L1272.6,1360.8 L1275.4,1361.8 L1278.4,1362.6 L1281.1,1363.9 L1283.9,1365.1 L1286.6,1366.4 L1289.0,1368.4 L1291.6,1370.0 L1294.5,1370.8 L1297.3,1372.0 L1299.9,1373.6 L1302.5,1375.2 L1305.0,1376.8 L1308.0,1377.4 L1311.1,1378.0 L1313.7,1379.5 L1316.5,1380.6 L1319.3,1381.6 L1322.0,1383.0 L1324.7,1384.4 L1327.3,1385.9 L1330.0,1387.3 L1332.9,1388.2 L1336.0,1388.6 L1338.9,1389.3 L1341.5,1390.8 L1344.0,1392.7 L1346.5,1394.5 L1349.4,1395.5 L1352.5,1395.7 L1355.3,1396.6 L1358.1,1397.9 L1360.9,1398.9 L1363.6,1400.1 L1366.5,1401.1 L1369.3,1402.0 L1372.1,1403.1 L1374.7,1404.7 L1377.3,1406.4 L1380.1,1407.3 L1383.3,1407.3 L1386.3,1407.8 L1389.1,1408.9 L1391.8,1410.2 L1394.5,1411.5 L1397.4,1412.2 L1400.4,1412.8 L1403.3,1413.6 L1406.0,1414.8 L1408.6,1416.5 L1411.4,1417.7 L1414.4,1418.1 L1417.4,1418.4 L1420.5,1418.6 L1423.4,1419.4 L1426.1,1420.8 L1428.8,1422.1 L1431.5,1423.6 L1434.4,1424.2 L1437.4,1424.5 L1440.2,1425.5 L1443.0,1426.8 L1445.7,1428.2 L1448.5,1429.0 L1451.6,1429.3 L1454.5,1429.9 L1457.4,1430.7 L1460.3,1431.4 L1463.2,1432.2 L1465.9,1433.4 L1468.8,1434.4 L1471.7,1435.1 L1474.6,1435.8 L1477.5,1436.4 L1480.3,1437.6 L1483.0,1439.1 L1486.1,1438.9 L1489.2,1439.0 L1491.9,1440.5 L1494.8,1441.2 L1498.0,1440.8 L1501.1,1440.7 L1504.0,1441.4 L1506.8,1442.4 L1509.6,1443.4 L1512.4,1444.7 L1515.2,1446.1 L1518.1,1446.7 L1521.1,1446.8 L1524.0,1447.7 L1526.8,1448.9 L1529.7,1449.5 L1532.8,1449.4 L1535.8,1449.7 L1538.6,1451.1 L1541.5,1451.9 L1544.4,1452.3 L1547.2,1453.6 L1550.2,1454.2 L1553.4,1453.5 L1556.5,1453.2 L1559.4,1454.0 L1562.2,1455.1 L1565.2,1455.6 L1568.1,1456.3 L1570.7,1458.4 L1573.6,1459.1 L1576.9,1457.9 L1580.0,1457.5 L1582.9,1458.7 L1585.6,1460.2 L1588.5,1461.2 L1591.5,1461.4 L1594.6,1460.9 L1597.7,1460.9 L1600.5,1462.3 L1603.4,1463.3 L1606.4,1463.5 L1609.3,1464.0 L1612.3,1464.4 L1615.3,1464.5 L1618.3,1464.8 L1621.3,1465.3 L1624.2,1466.0 L1627.1,1466.9 L1630.1,1467.2 L1633.1,1467.5 L1636.0,1468.0 L1639.0,1468.6 L1641.9,1469.2 L1644.9,1469.5 L1648.0,1469.3 L1651.0,1469.3 L1653.9,1470.2 L1656.9,1470.7 L1659.9,1470.7 L1662.9,1471.0 L1665.8,1471.6 L1668.7,1472.5 L1671.7,1473.3 L1674.5,1474.4 L1677.4,1475.6 L1680.4,1475.5 L1683.5,1475.4 L1686.5,1475.8 L1689.5,1475.8 L1692.5,1476.2 L1695.4,1477.2 L1698.4,1477.1 L1701.5,1476.2 L1704.5,1476.9 L1707.4,1477.9 L1710.3,1478.5 L1713.3,1479.3 L1716.2,1479.6 L1719.2,1479.9 L1722.3,1479.9 L1725.2,1480.3 L1728.2,1480.9 L1731.2,1481.0 L1734.2,1481.0 L1737.2,1481.1 L1740.2,1481.8 L1743.0,1482.9 L1746.0,1483.2 L1749.1,1482.6 L1752.0,1483.5 L1754.9,1484.9 L1758.0,1484.5 L1761.0,1484.3 L1764.0,1484.9 L1767.0,1485.1 L1769.9,1485.6 L1772.8,1486.7 L1775.8,1487.1 L1778.8,1487.3 L1781.8,1487.7 L1784.8,1487.7 L1787.8,1487.6 L1790.8,1488.0 L1793.7,1488.4 L1796.7,1489.0 L1799.7,1489.2 L1802.7,1489.1 L1805.7,1489.5 L1808.7,1489.7 L1811.7,1489.9 L1814.6,1490.7 L1817.5,1491.5 L1820.5,1492.0 L1823.4,1492.7 L1826.4,1493.0 L1829.5,1492.4 L1832.5,1492.0 L1835.5,1492.3 L1838.4,1493.3 L1841.3,1494.3 L1844.3,1494.4 L1847.4,1494.0 L1850.3,1494.7 L1853.2,1495.9 L1856.2,1496.4 L1859.3,1495.8 L1862.3,1495.1 L1865.4,1494.8 L1868.4,1495.0 L1871.3,1495.3 L1874.3,1495.6 L1877.3,1495.8 L1880.3,1496.1 L1883.2,1497.1 L1886.1,1498.1 L1889.1,1498.4 L1892.1,1498.6 L1895.0,1499.3 L1898.1,1499.2 L1901.1,1498.5 L1904.1,1498.5 L1907.1,1498.7 L1910.1,1499.1 L1913.0,1499.9 L1916.0,1500.7 L1918.9,1501.8 L1921.8,1502.4 L1924.9,1501.8 L1927.9,1501.4 L1930.9,1501.6 L1933.9,1502.0 L1936.9,1502.3 L1939.9,1502.4 L1942.9,1502.7 L1945.8,1503.2 L1948.8,1504.0 L1951.7,1504.8 L1954.7,1504.9 L1957.8,1504.0 L1960.9,1503.1 L1963.9,1503.2 L1966.8,1503.8 L1969.8,1503.7 L1972.8,1503.9 L1975.8,1504.6 L1978.7,1505.2 L1981.6,1506.5 L1984.6,1507.2 L1987.6,1506.8 L1990.6,1506.3 L1993.7,1506.2 L1996.6,1506.6 L1999.6,1506.7 L2002.7,1506.3 L2005.6,1507.0 L2008.5,1507.9 L2011.6,1507.5 L2014.6,1507.4 L2017.5,1508.5 L2020.5,1509.1 L2023.4,1509.4 L2026.5,1509.3 L2029.5,1509.4 L2032.4,1510.0 L2035.4,1510.0 L2038.4,1510.0 L2041.4,1510.8 L2044.3,1511.2 L2047.4,1511.0 L2050.4,1510.4 L2053.4,1510.3 L2056.4,1510.8 L2059.3,1511.6 L2062.3,1512.0 L2065.3,1511.7 L2068.3,1511.9 L2071.3,1512.3 L2074.2,1513.0 L2077.2,1513.2 L2080.2,1513.7 L2083.1,1514.5 L2086.1,1514.6 L2089.2,1514.2 L2092.2,1513.8 L2095.2,1514.0 L2098.1,1514.7 L2101.1,1514.8 L2104.1,1514.7 L2107.2,1514.0 L2110.2,1513.6 L2113.2,1514.4 L2116.1,1515.2 L2119.1,1515.9 L2122.0,1517.2 L2124.9,1518.0 L2128.0,1517.8 L2131.0,1517.7 L2134.0,1517.9 L2136.9,1518.0 L2140.0,1518.0 L2143.0,1517.7 L2146.0,1517.8 L2148.9,1518.7 L2151.9,1519.6 L2154.8,1519.8 L2157.9,1519.5 L2160.9,1518.8 L2163.9,1519.1 L2166.9,1519.8 L2169.9,1519.7 L2172.9,1518.8 L2176.0,1518.3 L2179.0,1518.6 L2181.8,1520.3 L2184.8,1521.8 L2187.8,1521.3 L2190.8,1520.6 L2193.8,1521.1 L2196.8,1521.5 L2199.8,1521.6 L2202.8,1521.4 L2205.8,1521.2 L2208.8,1521.9 L2211.7,1522.8 L2214.7,1523.4 L2217.7,1523.4 L2220.7,1523.2 L2223.7,1523.7 L2226.7,1523.9 L2229.7,1524.2 L2232.6,1524.7 L2235.6,1524.5 L2238.6,1524.7 L2241.6,1525.2 L2244.6,1525.5 L2247.6,1526.0 L2250.6,1526.3 L2253.6,1526.0 L2256.6,1526.2 L2259.5,1527.0 L2262.5,1526.8 L2265.6,1526.3 L2268.6,1525.7 L2271.7,1525.3 L2274.6,1526.1 L2277.6,1527.2 L2280.5,1527.7 L2283.5,1528.0 L2286.5,1528.5 L2289.5,1529.0 L2292.5,1529.0 L2295.5,1528.8 L2298.5,1528.7 L2301.5,1528.6 L2304.5,1529.0 L2307.5,1529.6 L2310.5,1529.3 L2313.5,1529.5 L2316.5,1529.6 L2319.5,1529.4 L2322.5,1530.2 L2325.4,1530.8 L2328.4,1530.9 L2331.4,1531.1 L2334.4,1531.3 L2337.4,1531.6" fill="none" stroke="#000000" stroke-width="7.5" stroke-linejoin="round" stroke-linecap="butt"/>
<path d="M361.9,1833.0 L362.1,1830.0 L362.2,1827.0 L362.3,1824.0 L362.4,1821.0 L362.5,1818.0 L362.6,1815.0 L362.7,1812.0 L362.8,1809.0 L362.9,1806.0 L363.0,1803.0 L363.1,1800.0 L363.2,1797.0 L363.3,1794.0 L363.4,1791.0 L363.5,1788.0 L363.6,1785.0 L363.7,1782.0 L363.8,1779.0 L363.9,1776.0 L363.9,1773.0 L364.0,1770.1 L364.1,1767.1 L364.2,1764.1 L364.3,1761.1 L364.4,1758.1 L364.5,1755.1 L364.6,1752.1 L364.7,1749.1 L364.8,1746.1 L364.9,1743.1 L365.0,1740.1 L365.0,1737.1 L365.1,1734.1 L365.2,1731.1 L365.3,1728.1 L365.4,1725.1 L365.5,1722.1 L365.6,1719.1 L365.7,1716.1 L365.7,1713.1 L365.8,1710.1 L365.9,1707.1 L366.0,1704.1 L366.1,1701.1 L366.2,1698.1 L366.3,1695.1 L366.3,1692.1 L366.4,1689.1 L366.5,1686.1 L366.6,1683.1 L366.7,1680.1 L366.7,1677.1 L366.8,1674.1 L366.9,1671.1 L367.0,1668.1 L367.1,1665.1 L367.1,1662.1 L367.2,1659.1 L367.3,1656.1 L367.4,1653.1 L367.5,1650.1 L367.5,1647.1 L367.6,1644.1 L367.7,1641.1 L367.8,1638.1 L367.8,1635.1 L367.9,1632.1 L368.0,1629.1 L368.1,1626.1 L368.1,1623.1 L368.2,1620.2 L368.3,1617.2 L368.4,1614.2 L368.4,1611.2 L368.5,1608.2 L368.6,1605.2 L368.7,1602.2 L368.7,1599.2 L368.8,1596.2 L368.9,1593.2 L369.0,1590.2 L369.0,1587.2 L369.1,1584.2 L369.2,1581.2 L369.3,1578.2 L369.3,1575.2 L369.4,1572.2 L369.5,1569.2 L369.5,1566.2 L369.6,1563.2 L369.7,1560.2 L369.8,1557.2 L369.8,1554.2 L369.9,1551.2 L370.0,1548.2 L370.0,1545.2 L370.1,1542.2 L370.2,1539.2 L370.3,1536.2 L370.3,1533.2 L370.4,1530.2 L370.5,1527.2 L370.5,1524.2 L370.6,1521.3 L370.7,1518.3 L370.7,1515.3 L370.8,1512.3 L370.9,1509.3 L371.0,1506.3 L371.0,1503.3 L371.1,1500.3 L371.2,1497.3 L371.2,1494.3 L371.3,1491.3 L371.4,1488.3 L371.4,1485.3 L371.5,1482.3 L371.6,1479.3 L371.6,1476.3 L371.7,1473.3 L371.8,1470.3 L371.9,1467.3 L371.9,1464.3 L372.0,1461.3 L372.1,1458.3 L372.1,1455.3 L372.2,1452.3 L372.3,1449.3 L372.3,1446.3 L372.4,1443.3 L372.5,1440.3 L372.6,1437.3 L372.6,1434.4 L372.7,1431.4 L372.8,1428.4 L372.8,1425.4 L372.9,1422.4 L373.0,1419.4 L373.0,1416.4 L373.1,1413.4 L373.2,1410.4 L373.3,1407.4 L373.3,1404.4 L373.4,1401.4 L373.5,1398.4 L373.5,1395.4 L373.6,1392.4 L373.7,1389.4 L373.7,1386.4 L373.8,1383.4 L373.9,1380.4 L374.0,1377.4 L374.0,1374.4 L374.1,1371.4 L374.2,1368.4 L374.3,1365.4 L374.3,1362.4 L374.4,1359.4 L374.5,1356.4 L374.5,1353.5 L374.6,1350.5 L374.7,1347.5 L374.8,1344.5 L374.8,1341.5 L374.9,1338.5 L375.0,1335.5 L375.1,1332.5 L375.1,1329.5 L375.2,1326.5 L375.3,1323.5 L375.4,1320.5 L375.4,1317.5 L375.5,1314.5 L375.6,1311.5 L375.7,1308.5 L375.7,1305.5 L375.8,1302.5 L375.9,1299.5 L376.0,1296.5 L376.1,1293.5 L376.1,1290.5 L376.2,1287.5 L376.3,1284.5 L376.4,1281.5 L376.5,1278.5 L376.5,1275.5 L376.6,1272.6 L376.7,1269.6 L376.8,1266.6 L376.9,1263.6 L376.9,1260.6 L377.0,1257.6 L377.1,1254.6 L377.2,1251.6 L377.3,1248.6 L377.4,1245.6 L377.4,1242.6 L377.5,1239.6 L377.6,1236.6 L377.7,1233.6 L377.8,1230.6 L377.9,1227.6 L378.0,1224.6 L378.0,1221.6 L378.1,1218.6 L378.2,1215.6 L378.3,1212.6 L378.4,1209.6 L378.5,1206.6 L378.6,1203.6 L378.7,1200.6 L378.8,1197.6 L378.9,1194.7 L378.9,1191.7 L379.0,1188.7 L379.1,1185.7 L379.2,1182.7 L379.3,1179.7 L379.4,1176.7 L379.5,1173.7 L379.6,1170.7 L379.7,1167.7 L379.8,1164.7 L379.9,1161.7 L380.0,1158.7 L380.1,1155.7 L380.2,1152.7 L380.3,1149.7 L380.4,1146.7 L380.5,1143.7 L380.6,1140.7 L380.7,1137.7 L380.8,1134.7 L380.9,1131.7 L381.0,1128.7 L381.1,1125.7 L381.2,1122.7 L381.3,1119.7 L381.4,1116.7 L381.5,1113.7 L381.6,1110.8 L381.7,1107.8 L381.8,1104.8 L381.9,1101.8 L382.1,1098.8 L382.2,1095.8 L382.3,1092.8 L382.4,1089.8 L382.5,1086.8 L382.6,1083.8 L382.7,1080.8 L382.8,1077.8 L383.0,1074.8 L383.1,1071.8 L383.2,1068.8 L383.3,1065.8 L383.4,1062.8 L383.5,1059.8 L383.7,1056.8 L383.8,1053.8 L383.9,1050.8 L384.0,1047.8 L384.1,1044.8 L384.3,1041.8 L384.4,1038.8 L384.5,1035.8 L384.6,1032.8 L384.8,1029.8 L384.9,1026.8 L385.0,1023.8 L385.1,1020.8 L385.3,1017.9 L385.4,1014.9 L385.5,1011.9 L385.7,1008.9 L385.8,1005.9 L385.9,1002.9 L386.0,999.9 L386.2,996.9 L386.3,993.9 L386.5,990.9 L386.6,987.9 L386.7,984.9 L386.9,981.9 L387.0,978.9 L387.1,975.9 L387.3,972.9 L387.4,969.9 L387.6,966.9 L387.7,963.9 L387.9,960.9 L388.0,957.9 L388.1,954.9 L388.3,951.9 L388.4,948.9 L388.6,945.9 L388.7,942.9 L388.9,939.9 L389.0,936.9 L389.2,933.9 L389.3,930.9 L389.5,927.9 L389.6,924.9 L389.8,921.9 L390.0,918.9 L390.1,915.9 L390.3,912.9 L390.4,909.9 L390.6,906.9 L390.8,903.9 L390.9,901.0 L391.1,898.0 L391.2,895.0 L391.4,892.0 L391.6,889.0 L391.7,886.0 L391.9,883.0 L392.1,880.0 L392.3,877.0 L392.4,874.0 L392.6,871.0 L392.8,868.0 L392.9,865.0 L393.1,862.0 L393.3,859.0 L393.5,856.0 L393.6,853.0 L393.8,850.0 L394.0,847.0 L394.2,844.0 L394.4,841.0 L394.5,838.0 L394.7,835.0 L394.9,832.0 L395.1,829.0 L395.3,826.0 L395.5,823.0 L395.7,820.0 L395.9,817.1 L396.0,814.1 L396.2,811.1 L396.4,808.1 L396.6,805.1 L396.8,802.1 L397.0,799.1 L397.2,796.1 L397.4,793.1 L397.6,790.1 L397.8,787.1 L398.0,784.1 L398.2,781.1 L398.4,778.1 L398.6,775.1 L398.8,772.2 L399.0,769.2 L399.2,766.2 L399.4,763.2 L399.6,760.2 L399.9,757.2 L400.1,754.2 L400.3,751.2 L400.5,748.2 L400.7,745.2 L400.9,742.2 L401.1,739.3 L401.4,736.3 L401.6,733.3 L401.8,730.3 L402.0,727.3 L402.2,724.3 L402.5,721.3 L402.7,718.3 L402.9,715.4 L403.1,712.4 L403.4,709.4 L403.6,706.4 L403.8,703.4 L404.1,700.4 L404.3,697.4 L404.5,694.5 L404.8,691.5 L405.0,688.5 L405.2,685.5 L405.5,682.5 L405.7,679.5 L405.9,676.6 L406.2,673.6 L406.4,670.6 L406.7,667.6 L406.9,664.6 L407.2,661.6 L407.4,658.7 L407.7,655.7 L407.9,652.7 L408.2,649.7 L408.4,646.7 L408.7,643.8 L408.9,640.8 L409.2,637.8 L409.4,634.8 L409.7,631.9 L409.9,628.9 L410.2,625.9 L410.5,622.9 L410.7,620.0 L411.0,617.0 L411.3,614.0 L411.5,611.0 L411.8,608.1 L412.1,605.1 L412.3,602.1 L412.6,599.2 L412.9,596.2 L413.1,593.2 L413.4,590.2 L413.7,587.3 L414.0,584.3 L414.3,581.3 L414.5,578.4 L414.8,575.4 L415.1,572.4 L415.4,569.5 L415.7,566.5 L416.0,563.5 L416.3,560.6 L416.7,557.6 L417.0,554.6 L417.3,551.7 L417.7,548.7 L418.0,545.7 L418.4,542.8 L418.8,539.8 L419.1,536.8 L419.5,533.9 L419.9,530.9 L420.3,528.0 L420.7,525.0 L421.2,522.0 L421.6,519.1 L422.1,516.1 L422.5,513.1 L423.0,510.2 L423.5,507.2 L424.0,504.2 L424.5,501.3 L425.1,498.3 L425.6,495.4 L426.2,492.4 L426.8,489.4 L427.4,486.5 L428.0,483.5 L428.6,480.5 L429.2,477.6 L429.9,474.6 L430.6,471.7 L431.3,468.7 L432.0,465.7 L432.7,462.8 L433.5,459.8 L434.3,456.8 L435.1,453.9 L435.9,450.9 L436.8,447.9 L437.6,445.0 L438.5,442.0 L439.4,439.0 L440.3,436.1 L441.3,433.1 L442.3,430.1 L443.3,427.2 L444.3,424.2 L445.4,421.3 L446.5,418.4 L447.7,415.6 L449.0,412.8 L450.3,410.1 L451.7,407.5 L453.2,404.9 L454.7,402.5 L456.4,400.2 L458.2,398.0 L460.1,396.0 L461.9,393.9 L464.0,392.0 L466.2,390.4 L468.6,388.8 L471.1,387.5 L473.8,386.7 L476.6,386.1 L479.3,385.3 L482.1,384.7 L485.0,385.1 L487.8,385.4 L490.7,385.4 L493.7,385.5 L496.6,386.4 L499.3,388.1 L502.0,389.2 L505.1,389.8 L508.0,390.8 L510.6,392.4 L513.2,394.1 L515.8,395.6 L518.5,397.1 L521.0,398.8 L523.4,400.7 L525.8,402.7 L528.2,404.6 L530.5,406.7 L532.8,408.7 L535.1,410.8 L537.2,413.1 L539.4,415.3 L541.6,417.4 L543.7,419.7 L545.7,422.0 L547.7,424.2 L549.7,426.5 L551.9,428.6 L554.0,430.7 L556.2,432.7 L558.2,434.8 L560.2,437.0 L562.2,439.2 L564.2,441.3 L566.2,443.4 L568.2,445.5 L570.3,447.5 L572.5,449.5 L574.6,451.4 L576.8,453.4 L578.9,455.4 L581.1,457.4 L583.5,459.1 L585.9,460.7 L587.9,463.0 L589.8,465.3 L592.3,467.0 L594.8,468.7 L597.1,470.7 L599.4,472.7 L601.9,474.4 L604.6,475.9 L607.3,477.5 L609.8,479.2 L612.4,480.9 L614.7,482.9 L617.2,484.9 L619.9,486.2 L622.9,487.2 L625.8,488.2 L628.5,489.7 L631.0,491.4 L633.7,492.9 L636.5,494.1 L639.5,494.8 L642.5,495.1 L645.3,496.0 L648.1,497.3 L650.9,498.2 L653.8,498.8 L656.9,498.6 L659.8,498.7 L662.7,499.3 L665.7,499.9 L668.6,500.1 L671.6,500.0 L674.6,499.7 L677.5,499.2 L680.5,498.8 L683.4,498.5 L686.4,498.1 L689.4,497.8 L692.4,498.0 L695.5,497.7 L698.2,496.2 L701.0,495.2 L704.0,494.8 L706.9,494.1 L709.7,493.2 L712.5,492.0 L715.3,491.0 L718.1,490.0 L720.9,489.1 L723.7,488.0 L726.3,486.7 L728.9,485.2 L731.5,483.6 L734.3,482.7 L737.2,481.9 L739.9,480.7 L742.6,479.2 L745.1,477.7 L748.0,476.7 L750.6,475.2 L753.0,473.4 L755.8,472.4 L758.7,471.3 L761.2,469.6 L763.8,468.1 L766.4,466.7 L769.0,465.2 L771.5,463.4 L774.0,461.7 L776.6,460.3 L779.2,458.8 L781.8,457.2 L784.5,455.8 L787.2,454.5 L789.7,452.8 L792.1,451.0 L794.8,449.6 L797.4,448.2 L800.0,446.5 L802.8,445.4 L805.6,444.3 L808.2,442.8 L810.6,440.9 L813.2,439.2 L815.9,437.9 L818.6,436.7 L821.3,435.4 L823.8,433.7 L826.3,431.8 L828.8,430.2 L831.5,429.0 L834.4,427.9 L837.1,426.6 L839.8,425.2 L842.5,423.9 L845.1,422.4 L847.4,420.4 L849.9,418.7 L852.6,417.4 L855.3,416.1 L858.0,414.8 L860.9,413.7 L863.7,412.6 L866.3,411.3 L868.9,409.6 L871.4,408.1 L874.1,406.7 L876.7,405.2 L879.4,403.9 L882.2,402.7 L884.8,401.3 L887.3,399.7 L890.2,398.8 L893.1,397.9 L895.7,396.4 L898.4,395.1 L901.2,394.0 L904.1,393.1 L906.8,391.9 L909.4,390.5 L912.1,389.2 L914.7,387.8 L917.5,386.5 L920.2,385.3 L922.8,383.9 L925.6,382.8 L928.4,381.8 L931.2,380.7 L933.8,379.2 L936.4,377.7 L939.3,376.8 L942.2,376.1 L945.1,375.3 L947.9,374.2 L950.6,373.1 L953.5,372.1 L956.2,371.0 L959.1,370.1 L962.0,369.3 L964.7,367.9 L967.4,366.7 L970.4,366.2 L973.2,365.3 L976.1,364.5 L979.0,363.7 L981.8,362.7 L984.7,361.9 L987.7,361.4 L990.5,360.6 L993.2,359.1 L996.1,358.3 L999.1,358.0 L1002.0,357.2 L1004.8,356.1 L1007.8,355.4 L1010.7,354.9 L1013.6,354.1 L1016.5,353.3 L1019.5,352.7 L1022.3,351.8 L1025.2,350.9 L1028.2,350.3 L1031.2,349.9 L1034.2,349.6 L1037.2,349.2 L1040.1,348.6 L1043.0,347.9 L1046.0,347.4 L1048.9,346.9 L1051.9,346.1 L1054.8,345.2 L1057.7,344.5 L1060.7,344.2 L1063.7,344.2 L1066.7,343.5 L1069.6,342.7 L1072.6,342.5 L1075.6,342.2 L1078.6,341.7 L1081.6,341.6 L1084.6,341.3 L1087.6,341.1 L1090.6,340.8 L1093.6,340.4 L1096.6,340.2 L1099.6,339.8 L1102.5,339.5 L1105.6,339.6 L1108.5,339.2 L1111.5,338.6 L1114.5,338.4 L1117.5,338.1 L1120.5,337.7 L1123.5,337.8 L1126.5,337.6 L1129.4,337.0 L1132.5,337.0 L1135.5,337.2 L1138.5,337.2 L1141.5,337.4 L1144.4,337.0 L1147.4,336.4 L1150.4,336.1 L1153.4,336.4 L1156.4,336.7 L1159.4,336.9 L1162.4,336.9 L1165.4,337.1 L1168.3,337.6 L1171.3,337.4 L1174.3,337.0 L1177.3,336.7 L1180.3,336.4 L1183.3,337.0 L1186.2,337.8 L1189.2,337.8 L1192.2,337.7 L1195.2,337.9 L1198.2,338.5 L1201.1,338.8 L1204.1,339.0 L1207.0,339.7 L1210.0,340.2 L1213.0,340.0 L1216.0,339.8 L1219.0,340.4 L1221.9,340.8 L1225.0,340.7 L1227.9,340.9 L1230.9,341.7 L1233.8,342.3 L1236.7,342.8 L1239.7,343.2 L1242.6,343.9 L1245.6,344.5 L1248.5,345.0 L1251.5,345.5 L1254.5,345.7 L1257.5,346.1 L1260.3,347.1 L1263.1,348.4 L1266.0,349.0 L1269.2,348.7 L1272.2,349.1 L1275.0,350.0 L1277.9,350.8 L1280.9,351.4 L1283.8,352.3 L1286.7,353.1 L1289.6,353.5 L1292.5,354.4 L1295.3,355.6 L1298.3,356.0 L1301.3,356.4 L1304.2,357.5 L1307.1,358.1 L1310.1,358.6 L1313.0,359.3 L1316.0,359.9 L1318.9,360.8 L1321.8,361.7 L1324.7,362.1 L1327.7,362.7 L1330.6,363.6 L1333.5,364.4 L1336.4,365.1 L1339.3,366.2 L1342.1,367.1 L1344.9,368.2 L1347.8,369.2 L1350.7,369.8 L1353.7,370.4 L1356.7,370.9 L1359.7,371.3 L1362.6,372.0 L1365.4,373.1 L1368.4,373.8 L1371.3,374.4 L1374.0,375.9 L1376.7,377.4 L1379.6,378.2 L1382.5,378.9 L1385.5,379.3 L1388.5,379.9 L1391.3,381.0 L1394.2,381.8 L1397.1,382.7 L1399.8,384.0 L1402.7,384.8 L1405.6,385.5 L1408.5,386.5 L1411.3,387.5 L1414.0,388.8 L1416.8,389.8 L1419.8,390.2 L1422.7,391.1 L1425.3,392.8 L1428.0,394.0 L1431.1,394.3 L1434.1,394.8 L1436.9,395.8 L1439.6,397.2 L1442.3,398.4 L1445.1,399.5 L1447.9,400.6 L1450.8,401.4 L1453.7,402.2 L1456.4,403.5 L1458.9,405.2 L1461.5,406.7 L1464.4,407.5 L1467.3,408.4 L1470.0,409.7 L1472.7,410.9 L1475.5,412.1 L1478.2,413.2 L1481.1,414.1 L1483.9,415.0 L1486.8,416.0 L1489.5,417.4 L1492.1,418.7 L1494.9,419.9 L1497.4,421.5 L1500.0,423.0 L1502.9,423.9 L1505.8,424.8 L1508.4,426.2 L1510.9,428.0 L1513.4,429.6 L1516.2,430.7 L1519.1,431.6 L1521.9,432.7 L1524.4,434.3 L1527.0,435.8 L1529.8,437.0 L1532.5,438.2 L1535.2,439.6 L1537.7,441.3 L1540.2,442.9 L1543.0,444.1 L1545.7,445.3 L1548.5,446.5 L1551.3,447.7 L1554.0,449.0 L1556.5,450.5 L1559.1,452.1 L1561.7,453.6 L1564.2,455.3 L1566.8,456.8 L1569.4,458.3 L1572.1,459.5 L1574.9,460.6 L1577.7,461.8 L1580.3,463.3 L1582.8,465.0 L1585.5,466.4 L1588.1,467.8 L1590.6,469.5 L1593.5,470.6 L1596.2,471.9 L1598.8,473.4 L1601.4,474.9 L1603.9,476.5 L1606.5,478.1 L1609.1,479.6 L1611.7,481.1 L1614.3,482.5 L1617.0,484.0 L1619.5,485.6 L1622.2,487.0 L1625.0,488.0 L1627.6,489.6 L1630.2,491.1 L1633.2,492.0 L1635.8,493.3 L1638.2,495.4 L1640.6,497.2 L1643.1,498.8 L1645.7,500.3 L1648.4,501.6 L1651.1,503.1 L1653.7,504.5 L1656.4,505.8 L1658.9,507.5 L1661.4,509.2 L1664.0,510.6 L1666.6,512.1 L1669.3,513.5 L1672.0,514.8 L1674.6,516.3 L1677.2,517.9 L1679.8,519.4 L1682.5,520.7 L1685.2,522.1 L1687.7,523.7 L1690.2,525.3 L1693.0,526.4 L1695.7,527.7 L1698.2,529.4 L1700.8,531.1 L1703.5,532.4 L1706.0,533.9 L1708.5,535.6 L1711.2,537.0 L1713.8,538.4 L1716.4,540.0 L1719.1,541.3 L1721.7,542.6 L1724.3,544.2 L1726.9,545.7 L1729.5,547.1 L1732.2,548.5 L1734.8,550.1 L1737.3,551.7 L1739.9,553.1 L1742.6,554.4 L1745.2,555.9 L1747.8,557.4 L1750.5,558.7 L1753.2,560.0 L1755.7,561.6 L1758.3,563.1 L1761.1,564.4 L1763.8,565.6 L1766.4,567.0 L1768.9,568.7 L1771.5,570.2 L1774.2,571.5 L1776.8,573.0 L1779.6,574.1 L1782.3,575.4 L1784.9,577.0 L1787.5,578.4 L1789.9,580.1 L1792.7,581.3 L1795.7,582.1 L1798.3,583.5 L1800.7,585.4 L1803.2,587.0 L1805.9,588.3 L1808.5,589.8 L1811.1,591.4 L1813.7,592.8 L1816.4,594.1 L1819.0,595.6 L1821.4,597.4 L1824.0,599.0 L1827.0,599.7 L1829.9,600.6 L1832.3,602.4 L1834.6,604.4 L1837.2,606.0 L1839.8,607.3 L1842.6,608.5 L1845.3,609.8 L1847.7,611.7 L1850.2,613.4 L1852.9,614.6 L1855.7,615.8 L1858.2,617.5 L1860.7,619.1 L1863.3,620.6 L1866.0,621.9 L1868.7,623.2 L1871.4,624.5 L1874.1,625.8 L1876.4,627.8 L1878.8,629.7 L1881.5,631.0 L1884.4,632.0 L1887.0,633.5 L1889.3,635.4 L1892.0,636.8 L1894.6,638.2 L1897.2,639.8 L1899.8,641.2 L1902.3,642.9 L1904.8,644.6 L1907.4,646.1 L1909.9,647.8 L1912.5,649.2 L1915.2,650.6 L1917.7,652.3 L1920.2,653.9 L1922.8,655.3 L1925.5,656.6 L1928.1,658.1 L1930.6,659.8 L1933.3,661.1 L1936.0,662.5 L1938.4,664.3 L1941.0,665.8 L1943.7,667.2 L1946.3,668.7 L1948.7,670.5 L1951.2,672.2 L1954.0,673.3 L1956.9,674.4 L1959.4,676.0 L1961.8,677.8 L1964.5,679.2 L1967.1,680.7 L1969.5,682.5 L1972.1,684.0 L1974.8,685.4 L1977.4,686.8 L1980.1,688.1 L1982.8,689.5 L1985.4,691.0 L1988.0,692.5 L1990.5,694.2 L1993.0,695.7 L1995.7,697.1 L1998.3,698.7 L2000.9,700.1 L2003.6,701.4 L2006.3,702.8 L2008.8,704.4 L2011.3,706.0 L2014.1,707.2 L2016.7,708.8 L2019.2,710.4 L2022.0,711.5 L2024.8,712.7 L2027.4,714.0 L2030.0,715.6 L2032.4,717.5 L2035.1,718.8 L2037.9,719.8 L2040.5,721.3 L2043.1,722.9 L2045.8,724.2 L2048.5,725.5 L2051.1,727.0 L2053.8,728.2 L2056.5,729.6 L2059.1,731.0 L2061.8,732.3 L2064.5,733.7 L2067.0,735.3 L2069.5,737.0 L2072.3,738.1 L2075.1,739.2 L2078.0,740.2 L2080.7,741.3 L2083.3,742.9 L2086.0,744.2 L2088.7,745.6 L2091.3,747.1 L2093.8,748.8 L2096.3,750.5 L2099.0,751.7 L2101.9,752.7 L2104.5,754.2 L2107.2,755.4 L2110.2,756.1 L2113.0,757.2 L2115.5,758.9 L2118.1,760.5 L2120.9,761.5 L2123.7,762.7 L2126.3,764.2 L2129.1,765.3 L2131.8,766.5 L2134.5,767.9 L2137.4,768.8 L2140.3,769.5 L2142.9,771.1 L2145.4,772.8 L2148.1,774.1 L2150.7,775.7 L2153.4,777.0 L2156.1,778.2 L2158.9,779.3 L2161.8,780.2 L2164.5,781.5 L2167.1,783.0 L2169.6,784.8 L2172.2,786.4 L2175.0,787.4 L2177.9,788.3 L2180.7,789.3 L2183.4,790.8 L2185.9,792.3 L2188.6,793.8 L2191.1,795.4 L2193.8,796.8 L2196.6,797.9 L2199.4,798.8 L2202.2,799.9 L2204.8,801.5 L2207.6,802.6 L2210.4,803.6 L2213.1,805.1 L2215.7,806.6 L2218.3,808.1 L2221.0,809.4 L2223.7,810.7 L2226.3,812.1 L2229.2,813.0 L2232.0,814.0 L2234.7,815.4 L2237.5,816.5 L2240.2,817.7 L2242.9,819.2 L2245.6,820.4 L2248.5,821.2 L2251.3,822.4 L2253.7,824.2 L2256.3,825.7 L2259.1,826.8 L2261.8,828.1 L2264.6,829.3 L2267.4,830.4 L2270.2,831.5 L2273.1,832.2 L2276.0,833.0 L2278.7,834.3 L2281.5,835.5 L2284.1,837.0 L2286.8,838.4 L2289.6,839.4 L2292.3,840.6 L2295.0,842.1 L2297.9,843.0 L2300.9,843.4 L2303.7,844.4 L2306.5,845.7 L2309.5,846.1 L2312.6,846.5 L2315.3,847.8 L2317.9,849.3 L2320.8,850.1 L2323.6,851.1 L2326.3,852.5 L2329.2,853.5 L2332.1,854.3 L2334.9,855.3 L2337.8,856.2" fill="none" stroke="#00ff00" stroke-width="9" stroke-linejoin="round" stroke-linecap="butt"/>
<line x1="248" y1="269.5" x2="248" y2="1836.5" stroke="#000" stroke-width="6"/>
<line x1="245" y1="1833.4" x2="2342" y2="1833.4" stroke="#000" stroke-width="5.5"/>
<text x="210.5" y="1852.5" font-size="70" textLength="33.5" lengthAdjust="spacingAndGlyphs">0</text>
<text x="210.4" y="1568.7" font-size="70" textLength="33.5" lengthAdjust="spacingAndGlyphs">2</text>
<text x="208.3" y="1284.9" font-size="70" textLength="33.5" lengthAdjust="spacingAndGlyphs">4</text>
<text x="210.2" y="1001.1" font-size="70" textLength="33.5" lengthAdjust="spacingAndGlyphs">6</text>
<text x="209.9" y="717.3" font-size="70" textLength="33.5" lengthAdjust="spacingAndGlyphs">8</text>
<text x="171.8" y="433.5" font-size="70" clip-path="url(#c1)">1</text>
<text x="210.3" y="433.5" font-size="70" textLength="32.5" lengthAdjust="spacingAndGlyphs">0</text>
<text x="462.5" y="1886.5" font-size="66" textLength="33.8" lengthAdjust="spacingAndGlyphs">2</text>
<text x="926.8" y="1886.5" font-size="66" textLength="33.8" lengthAdjust="spacingAndGlyphs">4</text>
<text x="1392.1" y="1886.5" font-size="66" textLength="33.8" lengthAdjust="spacingAndGlyphs">6</text>
<text x="1856.4" y="1886.5" font-size="66" textLength="33.8" lengthAdjust="spacingAndGlyphs">8</text>
<text x="2300.7" y="1886.5" font-size="66" clip-path="url(#c2)">1</text>
<text x="2340.6" y="1886.5" font-size="66" textLength="34.4" lengthAdjust="spacingAndGlyphs">0</text>
<text x="966.3" y="2004.0" font-size="74" textLength="650.5" lengthAdjust="spacingAndGlyphs">hydration time (h)</text>
<text transform="rotate(-90)" x="-1568.5" y="97.2" font-size="75" textLength="1040.8" lengthAdjust="spacingAndGlyphs">heat production rate q (J/hg</text>
<text transform="rotate(-90)" x="-526.7" y="129.4" font-size="47" textLength="102.9" lengthAdjust="spacingAndGlyphs">SCM</text>
<text transform="rotate(-90)" x="-418.5" y="97.2" font-size="75" textLength="21.2" lengthAdjust="spacingAndGlyphs">)</text>
<line x1="1307.5" y1="192" x2="1425.9" y2="192" stroke="#262626" stroke-width="5.5" stroke-linecap="round"/>
<line x1="1567.5" y1="192" x2="1688.1" y2="192" stroke="#ff1a1a" stroke-width="5.5" stroke-linecap="round"/>
<line x1="1787.5" y1="192" x2="1907.9" y2="192" stroke="#00ff00" stroke-width="5.5" stroke-linecap="round"/>
<line x1="2125.5" y1="192" x2="2245.5" y2="192" stroke="#1a1aff" stroke-width="5.5" stroke-linecap="round"/>
<text x="1440.5" y="210.0" font-size="55" textLength="111.9" lengthAdjust="spacingAndGlyphs">MFS</text>
<text x="1701.6" y="210.0" font-size="55" textLength="68.3" lengthAdjust="spacingAndGlyphs">FA</text>
<text x="1921.4" y="210.0" font-size="55" textLength="187.3" lengthAdjust="spacingAndGlyphs">GGBFS</text>
<text x="2257.8" y="210.0" font-size="55" textLength="169.1" lengthAdjust="spacingAndGlyphs">Quartz</text>
<text x="531.9" y="100.0" font-size="78" textLength="1226.8" lengthAdjust="spacingAndGlyphs">dissolution + reaction + formation</text>
<text x="498.1" y="932.8" font-size="78" textLength="689.8" lengthAdjust="spacingAndGlyphs">rapid dissolution of</text>
<text x="498.1" y="1034.0" font-size="78" textLength="455.4" lengthAdjust="spacingAndGlyphs">reactive ions</text>
<text x="1383.7" y="1246.0" font-size="78" textLength="592.6" lengthAdjust="spacingAndGlyphs">dissolution of Zn</text>
<text x="1973.2" y="1220.0" font-size="50" textLength="58.9" lengthAdjust="spacingAndGlyphs">2+</text>
<text x="1381.6" y="1349.0" font-size="78" textLength="151.5" lengthAdjust="spacingAndGlyphs">ions</text>
<polygon points="1085.8,135.4 1181.0,280.2 1170.3,287.2 1206.5,307.7 1202.1,266.3 1191.4,273.3 1096.2,128.6" fill="#000"/>
<polygon points="679.1,739.9 502.6,504.2 513.2,496.2 475.2,477.2 482.8,519.0 493.4,511.1 669.9,746.7" fill="#000"/>
<polygon points="612.3,1138.7 473.0,1321.2 463.1,1313.6 455.1,1355.3 493.3,1336.6 483.3,1329.0 622.7,1146.5" fill="#000"/>
<polygon points="1343.1,1215.4 1183.3,1274.4 1178.8,1262.2 1149.7,1293.2 1191.9,1297.9 1187.4,1285.7 1347.3,1226.6" fill="#000"/>
<defs><clipPath id="c1"><rect x="171.8" y="382.2" width="41.0" height="43.1"/><rect x="188.2" y="423.2" width="9.6" height="11.3"/></clipPath><clipPath id="c2"><rect x="2300.7" y="1838.2" width="38.7" height="40.6"/><rect x="2316.1" y="1876.8" width="9.1" height="10.6"/></clipPath></defs>
</svg></body></html>
